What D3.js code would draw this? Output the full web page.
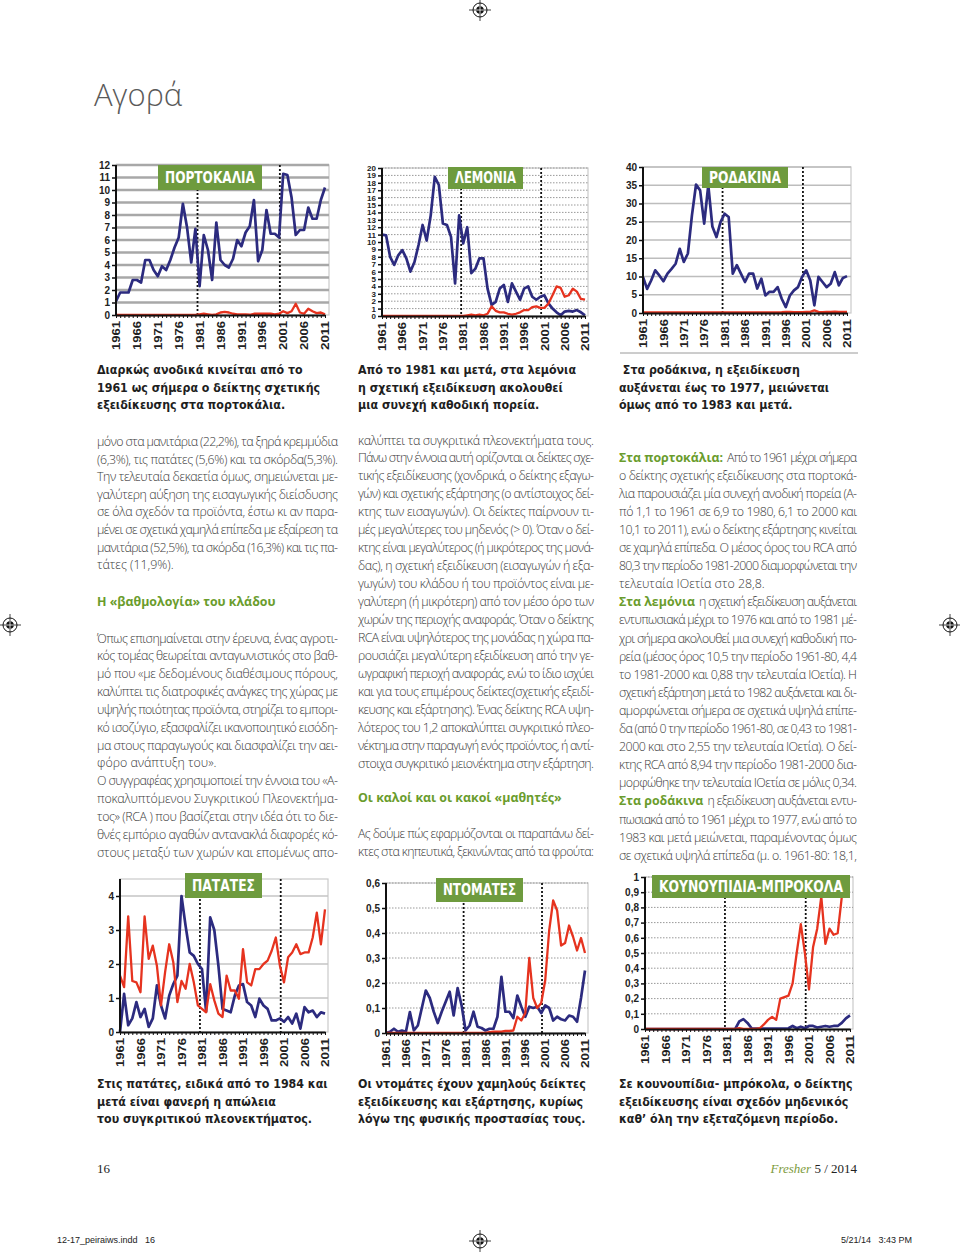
<!DOCTYPE html>
<html>
<head>
<meta charset="utf-8">
<script src="https://cdn.jsdelivr.net/npm/d3@7"></script>
<style>
  body { margin: 0; background: #fff; }
  svg { display: block; }
  .body-text { font-family: "Open Sans", "Noto Sans", sans-serif; font-weight: 300; font-size: 12.4px; fill: #3a3a3a; }
  .lead { font-family: "Open Sans", "Noto Sans", sans-serif; font-weight: 700; font-size: 12.4px; fill: #6a9c2c; }
  .green-head { font-family: "Open Sans", "Noto Sans", sans-serif; font-weight: 700; font-size: 12.4px; fill: #6a9c2c; }
  .caption { font-family: "Liberation Sans Narrow", "DejaVu Sans Condensed", "Roboto", sans-serif; font-weight: bold; font-size: 12.3px; fill: #1e1e1e; }
  .tick-label { font-family: "Liberation Sans", Arial, sans-serif; font-weight: bold; font-size: 10px; fill: #222; }
  .chart-label { font-family: "DejaVu Sans Condensed", "Liberation Sans Narrow", sans-serif; font-weight: bold; font-size: 15px; fill: #fff; }
</style>
</head>
<body>
<div id="page"></div>
<script>
// years on the x axis and the labelled ones
const years = [1961, 1962, 1963, 1964, 1965, 1966, 1967, 1968, 1969, 1970,
  1971, 1972, 1973, 1974, 1975, 1976, 1977, 1978, 1979, 1980,
  1981, 1982, 1983, 1984, 1985, 1986, 1987, 1988, 1989, 1990,
  1991, 1992, 1993, 1994, 1995, 1996, 1997, 1998, 1999, 2000,
  2001, 2002, 2003, 2004, 2005, 2006, 2007, 2008, 2009, 2010, 2011];
const yearLabels = [1961, 1966, 1971, 1976, 1981, 1986, 1991, 1996, 2001, 2006, 2011];
const breakYears = [1980.5, 2000.2];

// blue = specialisation index, red = dependency index
const orangesSpec = [1.1, 1.8, 1.8, 1.8, 2.8, 2.8, 2.6, 4.4, 4.4, 3.6,
  3.1, 3.9, 3.6, 4.4, 5.4, 6.2, 8.9, 7.0, 4.2, 6.9,
  2.3, 6.4, 5.2, 2.8, 7.4, 4.4, 4.0, 3.8, 4.5, 6.0,
  5.5, 6.6, 7.1, 9.2, 4.3, 5.2, 8.4, 6.5, 6.5, 6.2,
  11.3, 11.2, 9.4, 6.4, 6.8, 6.8, 8.6, 7.7, 7.7, 9.2, 10.2];
const orangesDep = [0, 0, 0, 0, 0, 0, 0, 0, 0, 0,
  0, 0, 0, 0, 0, 0, 0, 0, 0, 0,
  0.05, 0.1, 0.05, 0, 0.05, 0.2, 0.25, 0.2, 0.1, 0.05,
  0.05, 0.05, 0.02, 0.1, 0.1, 0.1, 0.1, 0.1, 0.05, 0.1,
  0.3, 0.15, 0.3, 0.9, 0.2, 0.1, 0.5, 0.3, 0.15, 0.2, 0.05];

const lemonsSpec = [11.0, 10.9, 8.0, 6.9, 8.2, 8.9, 7.8, 6.0, 7.3, 9.6,
  12.3, 10.2, 13.6, 18.8, 17.7, 12.5, 12.3, 10.7, 4.4, 13.6,
  9.8, 12.0, 5.8, 6.4, 7.8, 7.8, 3.7, 1.5, 1.9, 3.7,
  4.2, 1.9, 4.4, 3.3, 2.2, 3.7, 4.0, 2.6, 2.2, 2.6,
  2.8, 1.7, 1.0, 0.5, 0.1, 0.6, 0.7, 0.6, 0.8, 0.5, 0.1];
const lemonsDep = [0, 0, 0, 0, 0, 0, 0, 0, 0, 0,
  0, 0, 0, 0, 0, 0, 0, 0, 0, 0,
  0, 0.1, 0.2, 0.1, 0.2, 0.1, 0.3, 1.3, 0.7, 0.5,
  0.5, 0.3, 0.2, 0.3, 0.5, 0.8, 0.8, 1.2, 1.3, 1.1,
  1.1, 1.7, 2.8, 4.0, 3.8, 2.6, 2.8, 3.7, 3.3, 2.3, 2.2];

const peachesSpec = [9.9, 6.6, 8.9, 11.7, 10.3, 8.7, 10.8, 12.1, 13.5, 17.6,
  14.0, 16.3, 26.8, 35.2, 33.6, 24.5, 35.0, 23.7, 20.8, 24.9,
  27.2, 26.3, 10.8, 13.1, 10.8, 8.5, 10.8, 10.8, 6.7, 9.4,
  4.8, 5.8, 5.8, 7.1, 3.9, 1.6, 4.8, 6.2, 7.1, 9.9,
  11.7, 8.9, 2.1, 9.9, 8.5, 7.1, 8.0, 11.2, 7.6, 9.6, 10.1];
const peachesDep = [0.15, 0.15, 0.15, 0.15, 0.15, 0.15, 0.15, 0.15, 0.15, 0.15,
  0.15, 0.15, 0.15, 0.15, 0.15, 0.15, 0.15, 0.15, 0.15, 0.15,
  0.15, 0.15, 0.15, 0.15, 0.15, 0.15, 0.15, 0.15, 0.15, 0.15,
  0.15, 0.15, 0.15, 0.15, 0.2, 0.3, 0.3, 0.2, 0.2, 0.2,
  0.3, 0.3, 0.7, 0.3, 0.2, 0.3, 0.3, 0.4, 0.3, 0.3, 0.3];

const potatoesSpec = [0.0, 1.12, 0.2, 0.4, 0.88, 0.44, 0.68, 0.15, 0.4, 1.37,
  0.78, 0.4, 1.07, 1.41, 1.66, 4.0, 3.12, 2.34, 2.24, 2.0,
  1.85, 0.6, 3.37, 3.0, 1.95, 0.68, 0.63, 0.58, 1.07, 1.37,
  1.41, 0.88, 0.78, 0.44, 0.98, 0.78, 0.68, 0.34, 0.34, 0.4,
  0.3, 0.44, 0.25, 0.54, 0.1, 0.73, 0.58, 0.63, 0.44, 0.58, 0.54];
const potatoesDep = [1.66, 1.32, 3.4, 1.5, 1.46, 1.17, 3.4, 2.15, 2.54, 1.95,
  0.78, 1.76, 2.58, 2.05, 0.88, 1.5, 1.27, 2.0, 1.46, 0.78,
  0.68, 0.58, 1.41, 0.93, 0.54, 0.44, 1.66, 1.22, 1.22, 0.98,
  2.44, 1.46, 1.37, 1.85, 1.85, 2.0, 2.1, 2.39, 2.78, 1.95,
  1.46, 2.2, 2.34, 2.58, 2.29, 2.34, 2.34, 2.78, 3.51, 2.58, 3.61];

const tomatoesSpec = [0, 0.005, 0.017, 0.005, 0.01, 0.005, 0.084, 0.01, 0.03, 0.1,
  0.17, 0.14, 0.085, 0.04, 0.085, 0.125, 0.165, 0.07, 0.18, 0.11,
  0.01, 0.03, 0.085, 0.025, 0.02, 0.01, 0.017, 0.017, 0.065, 0.225,
  0.085, 0.085, 0.06, 0.15, 0.105, 0.065, 0.105, 0.1, 0.105, 0.08,
  0.11, 0.1, 0.05, 0.065, 0.055, 0.05, 0.07, 0.065, 0.045, 0.14, 0.25];
const tomatoesDep = [0, 0, 0, 0, 0, 0, 0, 0, 0, 0,
  0, 0, 0, 0, 0, 0, 0, 0, 0, 0,
  0, 0, 0, 0, 0, 0, 0.003, 0.005, 0.005, 0.005,
  0.008, 0.008, 0.01, 0.065, 0.05, 0.08, 0.3, 0.14, 0.1, 0.12,
  0.21, 0.41, 0.53, 0.49, 0.35, 0.36, 0.43, 0.385, 0.33, 0.38, 0.32];

const broccoliSpec = [0, 0, 0, 0, 0, 0, 0, 0, 0, 0,
  0, 0, 0, 0, 0, 0, 0, 0, 0, 0,
  0, 0, 0, 0.05, 0.065, 0.04, 0.005, 0.003, 0.003, 0.003,
  0.003, 0.003, 0.003, 0.003, 0.003, 0.005, 0.02, 0.005, 0.015, 0.005,
  0.02, 0.02, 0.01, 0.015, 0.02, 0.015, 0.02, 0.02, 0.04, 0.07, 0.09];
const broccoliDep = [0, 0, 0, 0, 0, 0, 0, 0, 0, 0,
  0, 0, 0, 0, 0, 0, 0, 0, 0, 0,
  0, 0, 0, 0.005, 0, 0, 0, 0, 0.005, 0.03,
  0.06, 0.08, 0.06, 0.2, 0.21, 0.22, 0.3, 0.5, 0.69, 0.5,
  0.26, 0.54, 0.66, 0.87, 0.56, 0.66, 0.62, 0.63, 0.87, 1.0, 1.0];

// y tick values per chart
const orangesTicks = [0, 1, 2, 3, 4, 5, 6, 7, 8, 9, 10, 11, 12];
const lemonsTicks = [0, 1, 2, 3, 4, 5, 6, 7, 8, 9, 10, 11, 12, 13, 14, 15, 16, 17, 18, 19, 20];
const peachesTicks = [0, 5, 10, 15, 20, 25, 30, 35, 40];
const potatoesTicks = [0, 1, 2, 3, 4];
const tomatoesTicks = [0, 0.1, 0.2, 0.3, 0.4, 0.5, 0.6];
const broccoliTicks = [0, 0.1, 0.2, 0.3, 0.4, 0.5, 0.6, 0.7, 0.8, 0.9, 1];

const chartNames = ["ΠΟΡΤΟΚΑΛΙΑ", "ΛΕΜΟΝΙΑ", "ΡΟΔΑΚΙΝΑ", "ΠΑΤΑΤΕΣ", "ΝΤΟΜΑΤΕΣ", "ΚΟΥΝΟΥΠΙΔΙΑ-ΜΠΡΟΚΟΛΑ"];

const captionsTop = [
  ["Διαρκώς ανοδικά κινείται από το", "1961 ως σήμερα ο δείκτης σχετικής", "εξειδίκευσης στα πορτοκάλια."],
  ["Από το 1981 και μετά, στα λεμόνια", "η σχετική εξειδίκευση ακολουθεί", "μια συνεχή καθοδική πορεία."],
  [" Στα ροδάκινα, η εξειδίκευση", "αυξάνεται έως το 1977, μειώνεται", "όμως από το 1983 και μετά."]
];
const captionsBottom = [
  ["Στις πατάτες, ειδικά από το 1984 και", "μετά είναι φανερή η απώλεια", "του συγκριτικού πλεονεκτήματος."],
  ["Οι ντομάτες έχουν χαμηλούς δείκτες", "εξειδίκευσης και εξάρτησης, κυρίως", "λόγω της φυσικής προστασίας τους."],
  ["Σε κουνουπίδια- μπρόκολα, ο δείκτης", "εξειδίκευσης είναι σχεδόν μηδενικός", "καθ’ όλη την εξεταζόμενη περίοδο."]
];

const leftLines1 = [
  "μόνο στα μανιτάρια (22,2%), τα ξηρά κρεμμύδια",
  "(6,3%), τις πατάτες (5,6%) και τα σκόρδα(5,3%).",
  "Την τελευταία δεκαετία όμως, σημειώνεται με-",
  "γαλύτερη αύξηση της εισαγωγικής διείσδυσης",
  "σε όλα σχεδόν τα προϊόντα, έστω κι αν παρα-",
  "μένει σε σχετικά χαμηλά επίπεδα με εξαίρεση τα",
  "μανιτάρια (52,5%), τα σκόρδα (16,3%) και τις πα-",
  "τάτες (11,9%)."
];
const leftHead = "Η «βαθμολογία» του κλάδου";
const leftLines2 = [
  "Όπως επισημαίνεται στην έρευνα, ένας αγροτι-",
  "κός τομέας θεωρείται ανταγωνιστικός στο βαθ-",
  "μό που «με δεδομένους διαθέσιμους πόρους,",
  "καλύπτει τις διατροφικές ανάγκες της χώρας με",
  "υψηλής ποιότητας προϊόντα, στηρίζει το εμπορι-",
  "κό ισοζύγιο, εξασφαλίζει ικανοποιητικό εισόδη-",
  "μα στους παραγωγούς και διασφαλίζει την αει-",
  "φόρο ανάπτυξη του».",
  "Ο συγγραφέας χρησιμοποιεί την έννοια του «Α-",
  "ποκαλυπτόμενου Συγκριτικού Πλεονεκτήμα-",
  "τος» (RCA ) που βασίζεται στην ιδέα ότι το διε-",
  "θνές εμπόριο αγαθών αντανακλά διαφορές κό-",
  "στους μεταξύ των χωρών και επομένως απο-"
];
const midLines1 = [
  "καλύπτει τα συγκριτικά πλεονεκτήματα τους.",
  "Πάνω στην έννοια αυτή ορίζονται οι δείκτες σχε-",
  "τικής εξειδίκευσης (χονδρικά, ο δείκτης εξαγω-",
  "γών) και σχετικής εξάρτησης (ο αντίστοιχος δεί-",
  "κτης των εισαγωγών).  Οι δείκτες παίρνουν τι-",
  "μές μεγαλύτερες του μηδενός (> 0). Όταν ο δεί-",
  "κτης είναι μεγαλύτερος (ή μικρότερος της μονά-",
  "δας), η σχετική εξειδίκευση (εισαγωγών ή εξα-",
  "γωγών) του κλάδου ή του προϊόντος είναι με-",
  "γαλύτερη (ή μικρότερη) από τον μέσο όρο των",
  "χωρών της περιοχής αναφοράς. Όταν ο δείκτης",
  "RCA είναι υψηλότερος της μονάδας η χώρα πα-",
  "ρουσιάζει μεγαλύτερη εξειδίκευση από την γε-",
  "ωγραφική περιοχή αναφοράς, ενώ το ίδιο ισχύει",
  "και για τους επιμέρους δείκτες(σχετικής εξειδί-",
  "κευσης και εξάρτησης). Ένας δείκτης RCA υψη-",
  "λότερος του 1,2 αποκαλύπτει συγκριτικό πλεο-",
  "νέκτημα στην παραγωγή ενός προϊόντος, ή αντί-",
  "στοιχα συγκριτικό μειονέκτημα στην εξάρτηση."
];
const midHead = "Οι καλοί και οι κακοί «μαθητές»";
const midLines2 = [
  "Ας δούμε πώς εφαρμόζονται οι παραπάνω δεί-",
  "κτες στα κηπευτικά, ξεκινώντας από τα φρούτα:"
];
const rightLines = [
  ["Στα πορτοκάλια:", "Από το 1961 μέχρι σήμερα"],
  "ο δείκτης σχετικής εξειδίκευσης στα πορτοκά-",
  "λια παρουσιάζει μία συνεχή ανοδική πορεία (Α-",
  "πό 1,1 το 1961 σε 6,9 το 1980, 6,1 το 2000 και",
  "10,1 το 2011), ενώ ο δείκτης εξάρτησης κινείται",
  "σε χαμηλά επίπεδα. Ο μέσος όρος του RCA από",
  "80,3 την περίοδο 1981-2000 διαμορφώνεται την",
  "τελευταία ΙΟετία στο 28,8.",
  ["Στα λεμόνια", "η σχετική εξειδίκευση αυξάνεται"],
  "εντυπωσιακά μέχρι το 1976 και από το 1981 μέ-",
  "χρι σήμερα ακολουθεί μια συνεχή καθοδική πο-",
  "ρεία (μέσος όρος 10,5 την περίοδο 1961-80, 4,4",
  "το 1981-2000 και 0,88 την τελευταία ΙΟετία). Η",
  "σχετική εξάρτηση μετά το 1982 αυξάνεται και δι-",
  "αμορφώνεται σήμερα σε σχετικά υψηλά επίπε-",
  "δα (από 0 την περίοδο 1961-80, σε 0,43 το 1981-",
  "2000 και στο 2,55 την τελευταία ΙΟετία). Ο δεί-",
  "κτης RCA από 8,94 την περίοδο 1981-2000 δια-",
  "μορφώθηκε την τελευταία ΙΟετία σε μόλις 0,34.",
  ["Στα ροδάκινα", "η εξειδίκευση αυξάνεται εντυ-"],
  "πωσιακά από το 1961 μέχρι το 1977, ενώ από το",
  "1983 και μετά μειώνεται, παραμένοντας όμως",
  "σε σχετικά υψηλά επίπεδα (μ. ο. 1961-80: 18,1,"
];

// ---------------------------------------------------------------
const svg = d3.select("#page").append("svg")
  .attr("width", 960)
  .attr("height", 1252);

svg.append("rect").attr("width", 960).attr("height", 1252).attr("fill", "#fff");

const commaFmt = d => String(d).replace(".", ",");

// chart layout (pixel boxes)
const charts = [
  {name: chartNames[0], spec: orangesSpec, dep: orangesDep, ticks: orangesTicks, yTop: 12,
   left: 116, xEnd: 325, right: 329, top: 165, bottom: 315,
   grid: {color: "#a8a8a8", width: 2.6, dash: null}, label: {x: 158, y: 165, w: 104, h: 25}},
  {name: chartNames[1], spec: lemonsSpec, dep: lemonsDep, ticks: lemonsTicks, yTop: 20,
   left: 382, xEnd: 585, right: 588, top: 168, bottom: 316, tickFont: 8,
   grid: {color: "#999", width: 1, dash: "1.5,1.5"}, label: {x: 448, y: 167, w: 75, h: 22}},
  {name: chartNames[2], spec: peachesSpec, dep: peachesDep, ticks: peachesTicks, yTop: 40,
   left: 643, xEnd: 847, right: 851, top: 167, bottom: 313,
   grid: {color: "#bdbdbd", width: 1.5, dash: null}, label: {x: 702, y: 167, w: 86, h: 21}},
  {name: chartNames[3], spec: potatoesSpec, dep: potatoesDep, ticks: potatoesTicks, yTop: 4.5,
   left: 120, xEnd: 325, right: 328, top: 879, bottom: 1032,
   grid: {color: "#c4c4c4", width: 1.4, dash: null}, label: {x: 185, y: 873, w: 77, h: 25}},
  {name: chartNames[4], spec: tomatoesSpec, dep: tomatoesDep, ticks: tomatoesTicks, yTop: 0.6,
   left: 386, xEnd: 585, right: 588, top: 883, bottom: 1033,
   grid: {color: "#999", width: 1, dash: "1.5,1.5"}, label: {x: 436, y: 878, w: 87, h: 24}},
  {name: chartNames[5], spec: broccoliSpec, dep: broccoliDep, ticks: broccoliTicks, yTop: 1,
   left: 645, xEnd: 850, right: 853, top: 877, bottom: 1029,
   grid: {color: "#999", width: 1, dash: "1.5,1.5"}, label: {x: 652, y: 875, w: 198, h: 23}}
];

function drawChart(c) {
  const g = svg.append("g");
  const x = d3.scaleLinear().domain([1961, 2011]).range([c.left, c.xEnd]);
  const y = d3.scaleLinear().domain([0, c.yTop]).range([c.bottom, c.top]);

  g.append("rect")
    .attr("x", c.left).attr("y", c.top)
    .attr("width", c.right - c.left).attr("height", c.bottom - c.top)
    .attr("fill", "#fff").attr("stroke", "#cacaca").attr("stroke-width", 1.2);

  // gridlines
  g.selectAll(".grid").data(c.ticks.filter(t => t > 0)).enter()
    .append("line")
      .attr("x1", c.left).attr("x2", c.right)
      .attr("y1", d => y(d)).attr("y2", d => y(d))
      .attr("stroke", c.grid.color)
      .attr("stroke-width", c.grid.width)
      .attr("stroke-dasharray", c.grid.dash);

  // period dividers
  g.selectAll(".brk").data(breakYears).enter()
    .append("line")
      .attr("x1", d => x(d)).attr("x2", d => x(d))
      .attr("y1", c.top).attr("y2", c.bottom)
      .attr("stroke", "#111").attr("stroke-width", 1.8)
      .attr("stroke-dasharray", "2,2");

  const line = d3.line()
    .x((d, i) => x(years[i]))
    .y(d => y(d));

  g.append("path").datum(c.spec)
    .attr("d", line).attr("fill", "none")
    .attr("stroke", "#2c2b7f").attr("stroke-width", 2.7)
    .attr("stroke-linejoin", "round");
  g.append("path").datum(c.dep)
    .attr("d", line).attr("fill", "none")
    .attr("stroke", "#e6331f").attr("stroke-width", 2.3)
    .attr("stroke-linejoin", "round");

  // y axis
  const yAx = g.append("g")
    .attr("transform", `translate(${c.left},0)`)
    .call(d3.axisLeft(y).tickValues(c.ticks).tickSize(4).tickSizeOuter(0).tickFormat(commaFmt));
  yAx.select(".domain").attr("stroke", "#111").attr("stroke-width", 2)
    .attr("d", `M0,${c.top}V${c.bottom}`);
  yAx.selectAll(".tick line").attr("stroke", "#111").attr("stroke-width", 1.5);
  yAx.selectAll(".tick text").attr("class", "tick-label").attr("x", -6)
    .style("font-size", (c.tickFont || 10) + "px");

  // x axis
  const xAx = g.append("g")
    .attr("transform", `translate(0,${c.bottom})`)
    .call(d3.axisBottom(x).tickValues(years).tickSize(3).tickSizeOuter(0)
      .tickFormat(d => yearLabels.includes(d) ? d : ""));
  xAx.select(".domain").attr("stroke", "#111").attr("stroke-width", 2.2);
  xAx.selectAll(".tick line").attr("stroke", "#111").attr("stroke-width", 1);
  xAx.selectAll(".tick text")
    .attr("class", "tick-label")
    .attr("transform", "rotate(-90)")
    .attr("x", -6).attr("y", 0).attr("dy", "0.36em")
    .attr("text-anchor", "end")
    .filter(d => yearLabels.includes(d))
    .attr("textLength", 29).attr("lengthAdjust", "spacingAndGlyphs");

  // name tag
  g.append("rect")
    .attr("x", c.label.x).attr("y", c.label.y)
    .attr("width", c.label.w).attr("height", c.label.h)
    .attr("fill", "#6e9b3e");
  g.append("text")
    .attr("class", "chart-label")
    .attr("x", c.label.x + c.label.w / 2)
    .attr("y", c.label.y + c.label.h / 2)
    .attr("dy", "0.36em")
    .attr("text-anchor", "middle")
    .attr("textLength", c.label.w - 14)
    .attr("lengthAdjust", "spacingAndGlyphs")
    .text(c.name);
}

charts.forEach(drawChart);

// captions under the charts
const capX = [97, 358, 619];
function drawCaptions(list, y0) {
  list.forEach((lines, k) => {
    svg.selectAll(null).data(lines).enter()
      .append("text")
        .attr("class", "caption")
        .attr("x", capX[k])
        .attr("y", (d, i) => y0 + i * 17.6)
        .attr("xml:space", "preserve")
        .text(d => d);
  });
}
drawCaptions(captionsTop, 374);
drawCaptions(captionsBottom, 1088);

// body text, justified where the line is long
function drawLines(x0, width, y0, lh, lines) {
  lines.forEach((ln, i) => {
    const yy = y0 + i * lh;
    let xs = x0, rest = ln;
    if (Array.isArray(ln)) {
      const lt = svg.append("text").attr("class", "lead").attr("x", x0).attr("y", yy).text(ln[0]);
      xs = x0 + lt.node().getComputedTextLength() + 4;
      rest = ln[1];
    }
    const t = svg.append("text").attr("class", "body-text").attr("x", xs).attr("y", yy).text(rest);
    const natural = t.node().getComputedTextLength();
    const avail = x0 + width - xs;
    if (natural > avail * 0.8) t.attr("textLength", avail).attr("lengthAdjust", "spacing");
  });
}

drawLines(97, 241, 446, 17.6, leftLines1);
svg.append("text").attr("class", "green-head").attr("x", 97).attr("y", 606).text(leftHead);
drawLines(97, 241, 642.5, 17.85, leftLines2);

drawLines(358, 236, 444.5, 17.95, midLines1);
svg.append("text").attr("class", "green-head").attr("x", 358).attr("y", 802).text(midHead);
drawLines(358, 236, 837.5, 18, midLines2);

drawLines(619, 238, 461.5, 18.1, rightLines);

// page title
svg.append("text")
  .attr("x", 94).attr("y", 106)
  .style("font-family", "'Open Sans', 'Noto Sans', sans-serif")
  .style("font-weight", 300)
  .style("font-size", "31px")
  .style("fill", "#5a5a5a")
  .text("Αγορά");

// thin rule under the peaches chart
svg.append("line").attr("x1", 620).attr("x2", 858).attr("y1", 353).attr("y2", 353)
  .attr("stroke", "#9a9a9a").attr("stroke-width", 1);

// footer
svg.append("text").attr("x", 97).attr("y", 1173)
  .style("font-family", "'Liberation Serif', serif").style("font-size", "13px").style("fill", "#222")
  .text("16");
const foot = svg.append("text").attr("x", 857).attr("y", 1173).attr("text-anchor", "end")
  .style("font-family", "'Liberation Serif', serif").style("font-size", "13px").style("fill", "#222");
foot.append("tspan").style("font-style", "italic").style("fill", "#7c9b3c").text("Fresher ");
foot.append("tspan").text(" 5 / 2014");

// printer slug
svg.append("text").attr("x", 57).attr("y", 1243)
  .style("font-family", "'Liberation Sans', sans-serif").style("font-size", "9px").style("fill", "#222")
  .attr("xml:space", "preserve").text("12-17_peiraiws.indd   16");
svg.append("text").attr("x", 912).attr("y", 1243).attr("text-anchor", "end")
  .style("font-family", "'Liberation Sans', sans-serif").style("font-size", "9px").style("fill", "#222")
  .attr("xml:space", "preserve").text("5/21/14   3:43 PM");

// registration marks
const regMarks = [[480, 10], [10, 625], [950, 625], [480, 1241]];
regMarks.forEach(([cx, cy]) => {
  const m = svg.append("g").attr("transform", `translate(${cx},${cy})`);
  m.append("circle").attr("r", 7).attr("fill", "none").attr("stroke", "#111").attr("stroke-width", 1);
  m.append("circle").attr("r", 3.8).attr("fill", "#111");
  m.append("line").attr("x1", -11).attr("x2", 11).attr("stroke", "#111").attr("stroke-width", 0.8);
  m.append("line").attr("y1", -11).attr("y2", 11).attr("stroke", "#111").attr("stroke-width", 0.8);
  m.append("line").attr("x1", -3.8).attr("x2", 3.8).attr("stroke", "#fff").attr("stroke-width", 0.8);
  m.append("line").attr("y1", -3.8).attr("y2", 3.8).attr("stroke", "#fff").attr("stroke-width", 0.8);
});
</script>
</body>
</html>
